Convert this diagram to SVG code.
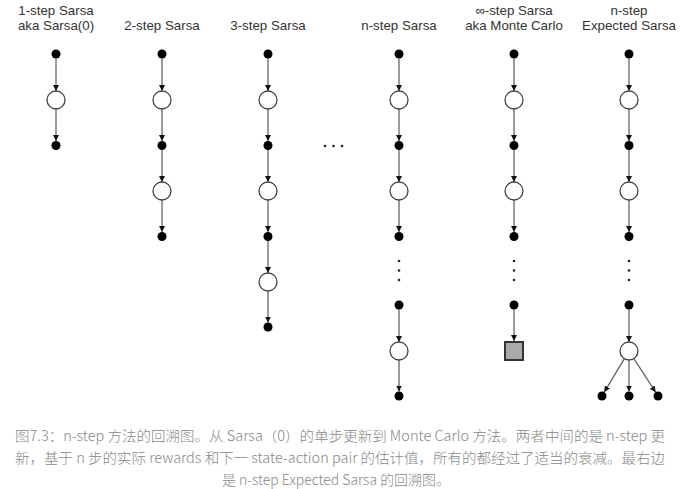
<svg xmlns="http://www.w3.org/2000/svg" width="681" height="489" viewBox="0 0 681 489">
<style>
.h{font-family:"Liberation Sans",Arial,sans-serif;font-size:13.3px;fill:#333;text-anchor:middle}
.d{fill:#000}
.o{fill:#fff;stroke:#444;stroke-width:1.3}
.e{stroke:#666;stroke-width:1.3;fill:none;marker-end:url(#ah)}
.el{fill:#222}
.cap{font-family:"Noto Sans CJK SC","Noto Sans",sans-serif;font-size:14px;fill:#888;text-anchor:middle;font-weight:300}
</style>
<defs>
<marker id="ah" markerUnits="userSpaceOnUse" markerWidth="6" markerHeight="6" refX="6" refY="3" orient="auto">
<path d="M0,0 L6,3 L0,6 z" fill="#111"/>
</marker>
</defs>
<rect width="681" height="489" fill="#fff"/>
<g id="headers">
<text class="h" x="56" y="15">1-step Sarsa</text>
<text class="h" x="56" y="30">aka Sarsa(0)</text>
<text class="h" x="162" y="30">2-step Sarsa</text>
<text class="h" x="268" y="30">3-step Sarsa</text>
<text class="h" x="399" y="30">n-step Sarsa</text>
<text class="h" x="514" y="15">∞-step Sarsa</text>
<text class="h" x="514" y="30">aka Monte Carlo</text>
<text class="h" x="629" y="15">n-step</text>
<text class="h" x="629" y="30">Expected Sarsa</text>
</g>
<g id="connectors">
<!-- col1 -->
<path class="e" d="M56,58.5V91"/><path class="e" d="M56,109V141"/>
<!-- col2 -->
<path class="e" d="M162,58.5V91"/><path class="e" d="M162,109V141"/><path class="e" d="M162,150V182"/><path class="e" d="M162,200V232"/>
<!-- col3 -->
<path class="e" d="M268,58.5V91"/><path class="e" d="M268,109V141"/><path class="e" d="M268,150V182"/><path class="e" d="M268,200V232"/><path class="e" d="M268,241V273"/><path class="e" d="M268,291V322.5"/>
<!-- col4 -->
<path class="e" d="M399,58.5V91"/><path class="e" d="M399,109V141"/><path class="e" d="M399,150V182"/><path class="e" d="M399,200V232"/><path class="e" d="M399,309.5V342"/><path class="e" d="M399,360V391.5"/>
<!-- col5 -->
<path class="e" d="M514,58.5V91"/><path class="e" d="M514,109V141"/><path class="e" d="M514,150V182"/><path class="e" d="M514,200V232"/><path class="e" d="M514,309.5V341"/>
<!-- col6 -->
<path class="e" d="M629,58.5V91"/><path class="e" d="M629,109V141"/><path class="e" d="M629,150V182"/><path class="e" d="M629,200V232"/><path class="e" d="M629,309.5V342"/>
<path class="e" d="M624.4,358.7L604.3,392.1"/><path class="e" d="M629,360V391.5"/><path class="e" d="M633.9,358.6L655.6,392.2"/>
</g>
<g id="col1">
<circle class="d" cx="56" cy="54" r="4.5"/><circle class="o" cx="56" cy="100" r="9"/><circle class="d" cx="56" cy="145.5" r="4.5"/>
</g>
<g id="col2">
<circle class="d" cx="162" cy="54" r="4.5"/><circle class="o" cx="162" cy="100" r="9"/><circle class="d" cx="162" cy="145.5" r="4.5"/><circle class="o" cx="162" cy="191" r="9"/><circle class="d" cx="162" cy="236.5" r="4.5"/>
</g>
<g id="col3">
<circle class="d" cx="268" cy="54" r="4.5"/><circle class="o" cx="268" cy="100" r="9"/><circle class="d" cx="268" cy="145.5" r="4.5"/><circle class="o" cx="268" cy="191" r="9"/><circle class="d" cx="268" cy="236.5" r="4.5"/><circle class="o" cx="268" cy="282" r="9"/><circle class="d" cx="268" cy="327" r="4.5"/>
</g>
<g id="ellipsis">
<circle class="el" cx="325" cy="146" r="1.3"/><circle class="el" cx="333.5" cy="146" r="1.3"/><circle class="el" cx="342" cy="146" r="1.3"/>
</g>
<g id="col4">
<circle class="d" cx="399" cy="54" r="4.5"/><circle class="o" cx="399" cy="100" r="9"/><circle class="d" cx="399" cy="145.5" r="4.5"/><circle class="o" cx="399" cy="191" r="9"/><circle class="d" cx="399" cy="236.5" r="4.5"/>
<circle class="el" cx="399" cy="261" r="1.3"/><circle class="el" cx="399" cy="270.5" r="1.3"/><circle class="el" cx="399" cy="280" r="1.3"/>
<circle class="d" cx="399" cy="305" r="4.5"/><circle class="o" cx="399" cy="351" r="9"/><circle class="d" cx="399" cy="396" r="4.5"/>
</g>
<g id="col5">
<circle class="d" cx="514" cy="54" r="4.5"/><circle class="o" cx="514" cy="100" r="9"/><circle class="d" cx="514" cy="145.5" r="4.5"/><circle class="o" cx="514" cy="191" r="9"/><circle class="d" cx="514" cy="236.5" r="4.5"/>
<circle class="el" cx="514" cy="261" r="1.3"/><circle class="el" cx="514" cy="270.5" r="1.3"/><circle class="el" cx="514" cy="280" r="1.3"/>
<circle class="d" cx="514" cy="305" r="4.5"/>
<rect x="505" y="342" width="18" height="18" fill="#aaa" stroke="#333" stroke-width="2"/>
</g>
<g id="col6">
<circle class="d" cx="629" cy="54" r="4.5"/><circle class="o" cx="629" cy="100" r="9"/><circle class="d" cx="629" cy="145.5" r="4.5"/><circle class="o" cx="629" cy="191" r="9"/><circle class="d" cx="629" cy="236.5" r="4.5"/>
<circle class="el" cx="629" cy="261" r="1.3"/><circle class="el" cx="629" cy="270.5" r="1.3"/><circle class="el" cx="629" cy="280" r="1.3"/>
<circle class="d" cx="629" cy="305" r="4.5"/><circle class="o" cx="629" cy="351" r="9"/>
<circle class="d" cx="602" cy="396" r="4.5"/><circle class="d" cx="629" cy="396" r="4.5"/><circle class="d" cx="658" cy="396" r="4.5"/>
</g>
<g id="caption">
<text class="cap" x="340" y="441" textLength="650" lengthAdjust="spacingAndGlyphs">图7.3：n-step 方法的回溯图。从 Sarsa（0）的单步更新到 Monte Carlo 方法。两者中间的是 n-step 更</text>
<text class="cap" x="340" y="463" textLength="650" lengthAdjust="spacingAndGlyphs">新，基于 n 步的实际 rewards 和下一 state-action pair 的估计值，所有的都经过了适当的衰减。最右边</text>
<text class="cap" x="336" y="484.5" textLength="228" lengthAdjust="spacingAndGlyphs">是 n-step Expected Sarsa 的回溯图。</text>
</g>
</svg>
